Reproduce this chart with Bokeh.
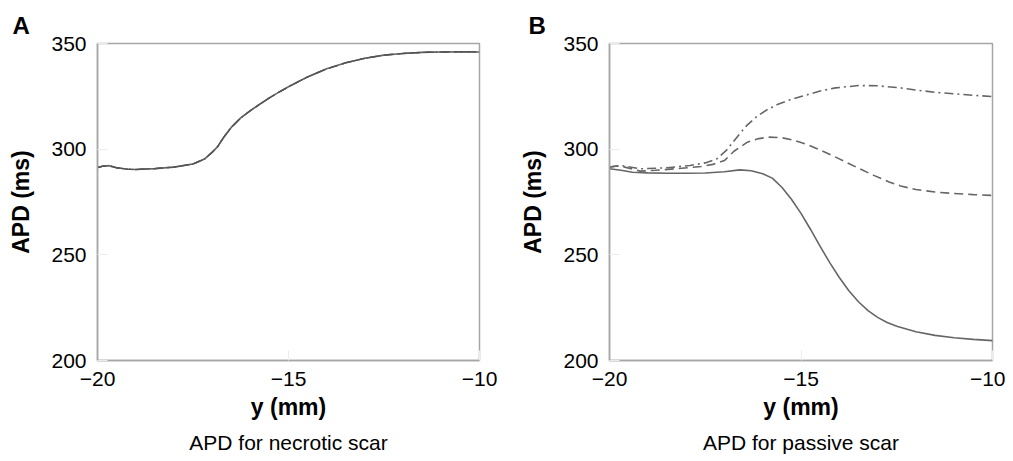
from bokeh.plotting import figure
from bokeh.layouts import row
from bokeh.models import FixedTicker, Title, Range1d
from bokeh.embed import file_html
from bokeh.resources import INLINE

# ---------------- data ----------------
x_ticks = [-20, -15, -10]
x_tick_labels = ["\u221220", "\u221215", "\u221210"]
y_ticks = [200, 250, 300, 350]
y_tick_labels = ["200", "250", "300", "350"]

# Panel A (necrotic scar) - three nearly coincident curves
a_x = [-20, -19.85, -19.7, -19.5, -19.2, -19.0, -18.5, -18.0, -17.5, -17.2, -17.0,
       -16.85, -16.7, -16.5, -16.25, -16.0, -15.75, -15.5, -15.25, -15.0, -14.5,
       -14.0, -13.5, -13.0, -12.5, -12.0, -11.5, -11.0, -10.5, -10.0]
a_apd = [291.3, 292.0, 292.2, 291.2, 290.5, 290.4, 290.8, 291.5, 293.0, 295.3, 298.5,
         301.3, 305.5, 310.3, 314.8, 318.2, 321.3, 324.3, 327.0, 329.5, 334.2,
         338.0, 340.9, 343.0, 344.5, 345.3, 345.8, 346.0, 346.1, 346.0]

# Panel B (passive scar)
b_solid_x = [-20, -19.7, -19.4, -19.0, -18.5, -18.0, -17.5, -17.0, -16.6, -16.3, -16.0,
             -15.75, -15.5, -15.25, -15.0, -14.75, -14.5, -14.25, -14.0, -13.75, -13.5,
             -13.25, -13.0, -12.75, -12.5, -12.0, -11.5, -11.0, -10.5, -10.0]
b_solid = [290.7, 290.0, 289.1, 288.8, 288.6, 288.6, 288.7, 289.3, 290.2, 289.8, 288.4,
           286.3, 282.0, 276.3, 269.6, 262.0, 254.0, 246.3, 239.3, 233.0, 227.8,
           223.6, 220.4, 218.0, 216.2, 213.6, 211.9, 210.8, 210.0, 209.4]

b_dash_x = [-20, -19.8, -19.6, -19.2, -18.8, -18.3, -17.6, -17.3, -17.0, -16.75, -16.4,
            -16.1, -15.85, -15.5, -15.2, -14.85, -14.4, -14.0, -13.5, -13.1, -12.7,
            -12.4, -12.0, -11.5, -11.0, -10.5, -10.0]
b_dash = [291.5, 292.0, 291.5, 289.6, 290.0, 290.7, 291.8, 292.8, 294.6, 299.0, 303.3,
          305.0, 305.7, 305.4, 304.3, 302.3, 298.8, 295.4, 291.0, 287.6, 284.5,
          282.6, 280.9, 279.7, 279.0, 278.5, 278.1]

b_dashdot_x = [-20, -19.7, -19.2, -18.5, -17.9, -17.5, -17.2, -16.95, -16.6, -16.4,
               -16.15, -15.9, -15.6, -15.3, -15.0, -14.5, -14.1, -13.5, -13.0, -12.4,
               -12.0, -11.5, -11.0, -10.5, -10.0]
b_dashdot = [291.6, 292.3, 290.7, 291.2, 292.3, 293.5, 295.4, 299.4, 307.3, 311.5,
             315.5, 318.5, 321.3, 323.3, 324.9, 327.5, 329.0, 330.1, 330.0, 329.0,
             328.0, 326.9, 326.2, 325.5, 324.9]

FONT = "Liberation Sans"
LINE = "#666666"
FRAME = "#a6a6a6"
H = 461


def make_panel(width, border_left, border_right, letter, letter_x, caption):
    p = figure(width=width, height=H, output_backend="svg", toolbar_location=None,
               x_range=Range1d(-20, -10), y_range=Range1d(200, 350),
               min_border_left=border_left, min_border_right=border_right,
               min_border_top=43, min_border_bottom=H - 43 - 317)
    p.grid.visible = False
    p.outline_line_color = FRAME
    p.outline_line_width = 1.5
    for ax in (p.xaxis[0], p.yaxis[0]):
        ax.axis_line_color = FRAME
        ax.axis_line_width = 1.5
        ax.major_tick_in = 10
        ax.major_tick_out = 0
        ax.major_tick_line_color = "#ececec"
        ax.minor_tick_line_color = None
        ax.major_label_text_font = FONT
        ax.major_label_text_font_size = "21px"
        ax.major_label_text_color = "black"
        ax.axis_label_text_font = FONT
        ax.axis_label_text_font_size = "23px"
        ax.axis_label_text_font_style = "bold"
        ax.axis_label_text_color = "black"
    p.xaxis.ticker = FixedTicker(ticks=x_ticks)
    p.xaxis.major_label_overrides = dict(zip(x_ticks, x_tick_labels))
    p.yaxis.ticker = FixedTicker(ticks=y_ticks)
    p.yaxis.major_label_overrides = dict(zip(y_ticks, y_tick_labels))
    p.xaxis.major_label_standoff = 11
    p.yaxis.major_label_standoff = 11
    p.xaxis.axis_label = "y (mm)"
    p.yaxis.axis_label = "APD (ms)"
    p.xaxis.axis_label_standoff = 5
    p.yaxis.axis_label_standoff = 14
    p.add_layout(Title(text=caption, align="center", text_font=FONT,
                       text_font_size="21px", text_font_style="normal",
                       text_color="black", standoff=12), "below")
    p.add_layout(Title(text=letter, align="left", offset=letter_x - border_left,
                       vertical_align="middle",
                       text_font=FONT, text_font_size="24px", text_font_style="bold",
                       text_color="black", standoff=8), "above")
    return p


pa = make_panel(505, 97, 26, "A", 12, "APD for necrotic scar")
pa.line(a_x, a_apd, line_color=LINE, line_width=1.6)
pa.line(a_x, a_apd, line_color="#555555", line_width=1.4, line_dash="9 5")
pa.line(a_x, a_apd, line_color="#555555", line_width=1.4, line_dash="9 4 2 4")

pb = make_panel(500, 104, 13, "B", 23, "APD for passive scar")
pb.line(b_solid_x, b_solid, line_color=LINE, line_width=1.6)
pb.line(b_dash_x, b_dash, line_color=LINE, line_width=1.6, line_dash="9 5")
pb.line(b_dashdot_x, b_dashdot, line_color=LINE, line_width=1.6, line_dash="9 4 2 4")

layout = row(pa, pb)
open("out.html", "w").write(file_html(layout, INLINE))
